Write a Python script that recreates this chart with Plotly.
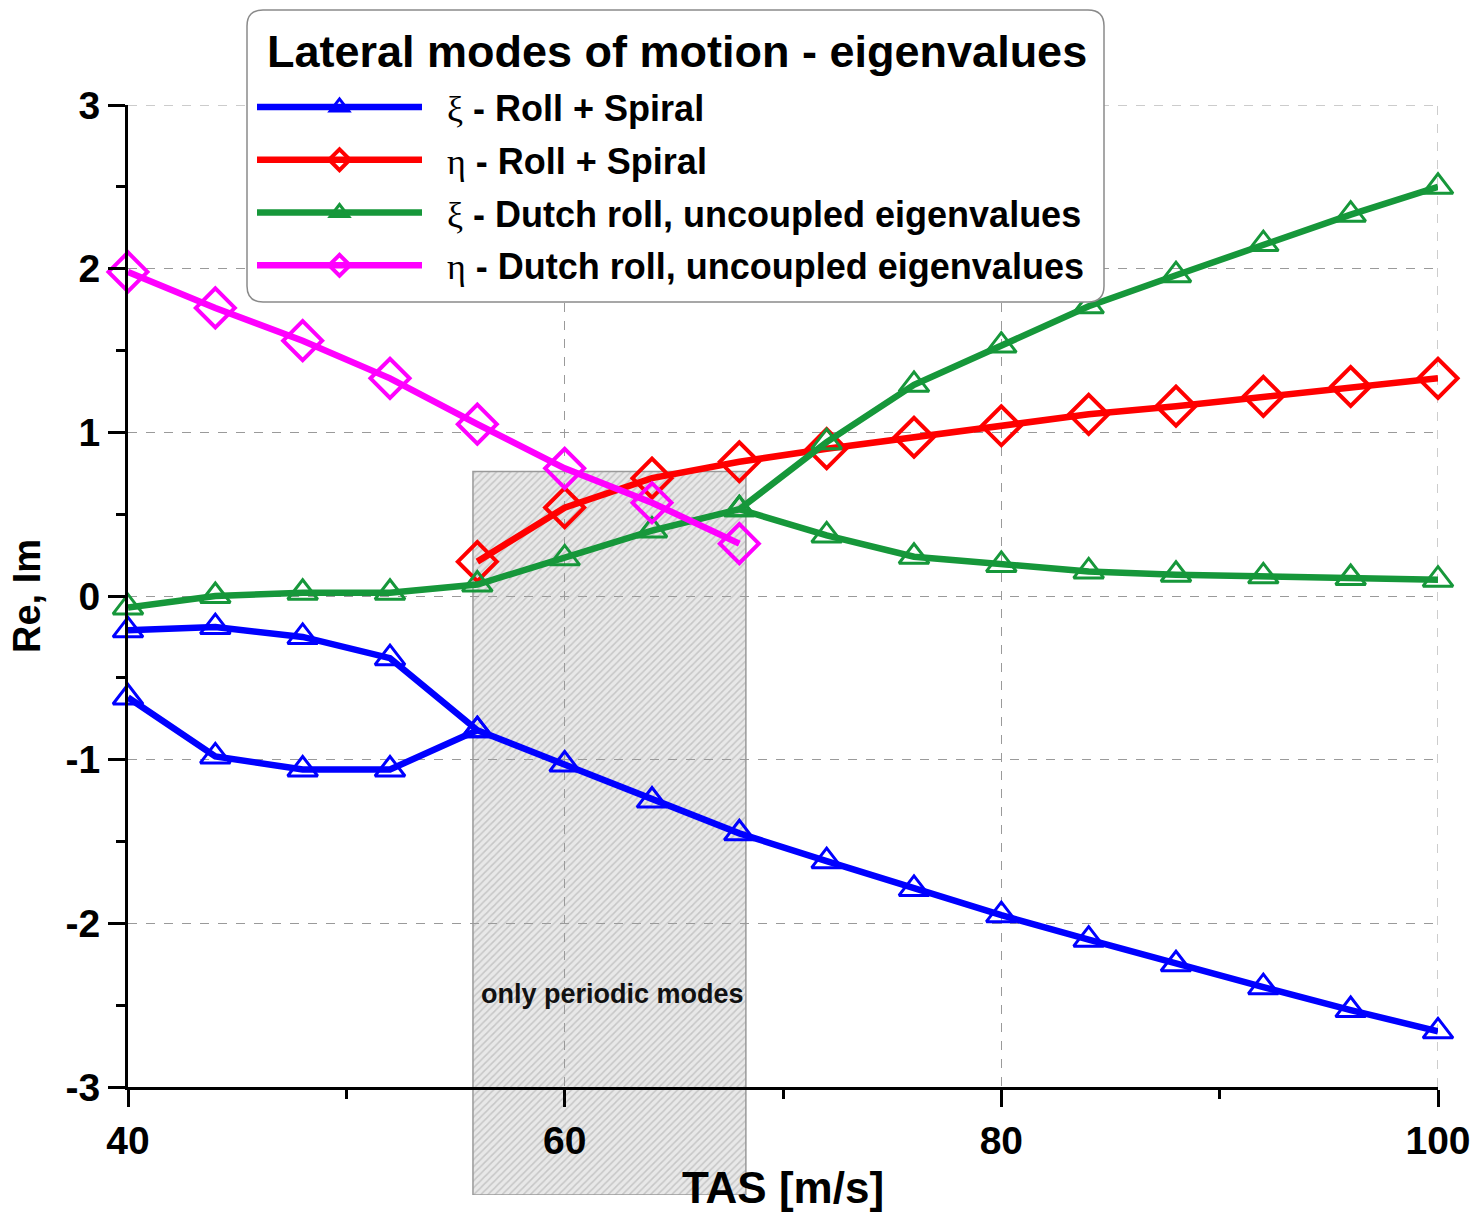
import plotly.graph_objects as go

# ---------------- data ----------------
tas = [40, 44, 48, 52, 56, 60, 64, 68, 72, 76, 80, 84, 88, 92, 96, 100]

xi_roll_spiral_a = [-0.21, -0.19, -0.25, -0.38, -0.82, -1.03, -1.25, -1.45, -1.62,
                    -1.79, -1.95, -2.10, -2.25, -2.39, -2.53, -2.66]
tas_roll_b = [40, 44, 48, 52, 56]
xi_roll_spiral_b = [-0.62, -0.98, -1.06, -1.06, -0.82]

tas_eta_roll = [56, 60, 64, 68, 72, 76, 80, 84, 88, 92, 96, 100]
eta_roll_spiral = [0.21, 0.54, 0.72, 0.82, 0.90, 0.97, 1.04, 1.11, 1.16, 1.22, 1.28, 1.33]

xi_dutch_a = [-0.07, 0.00, 0.02, 0.02, 0.07, 0.23, 0.40, 0.53, 0.94, 1.29, 1.53,
              1.77, 1.96, 2.15, 2.33, 2.50]
tas_dutch_b = [68, 72, 76, 80, 84, 88, 92, 96, 100]
xi_dutch_b = [0.53, 0.37, 0.24, 0.19, 0.15, 0.13, 0.12, 0.11, 0.10]

tas_eta_dutch = [40, 44, 48, 52, 56, 60, 64, 68]
eta_dutch = [1.98, 1.76, 1.56, 1.33, 1.05, 0.78, 0.57, 0.32]

periodic_x0, periodic_x1, periodic_top = 55.8, 68.3, 0.76
periodic_label = "only periodic modes"
periodic_label_x, periodic_label_y = 62.2, -2.43

legend_title = "Lateral modes of motion - eigenvalues"

x_ticks = [40, 60, 80, 100]
x_ticktext = ["40", "60", "80", "100"]
y_ticks = [-3, -2, -1, 0, 1, 2, 3]
y_ticktext = ["-3", "-2", "-1", "0", "1", "2", "3"]

# ---------------- style ----------------
W, H = 1476, 1216
ML, MR, MT, MB = 128, 38, 105, 21
plot_bottom_px = 1087
plot_w = W - ML - MR
plot_h = H - MT - MB
d = (H - MB - plot_bottom_px) / plot_h
y_low = -3 - 6 * d / (1 - d)

BLUE, RED, GREEN, MAG = "#0000FF", "#FF0000", "#16973A", "#FF00FF"
FONT = "Liberation Sans, Arial, sans-serif"
SERIF = "Liberation Serif"
GRID = "#9A9A9A"


def px_x(px):
    return (px - ML) / plot_w


def px_y(py):
    return (H - MB - py) / plot_h


def greek(ch, rest):
    return (f"\u00a0\u00a0<span style='font-family:{SERIF};font-weight:normal'>{ch}</span>"
            f" - {rest}")


fig = go.Figure()

# hatched region (drawn in the lower, invisible subplot)
fig.add_trace(go.Bar(
    x=[(periodic_x0 + periodic_x1) / 2], y=[periodic_top - y_low], base=[y_low],
    width=[periodic_x1 - periodic_x0],
    marker=dict(color="#E8E8E8", pattern=dict(shape="/", fgcolor="#A4A4A4", size=5, solidity=0.3),
                line=dict(color="#9A9A9A", width=1.5)),
    showlegend=False, hoverinfo="skip", xaxis="x", yaxis="y"))

tri = dict(symbol="triangle-up-open", size=26, line=dict(width=3))
dia = dict(symbol="diamond-open", size=30, line=dict(width=4))
LW = 6.5


def add(x, y, color, marker, name=None, group=None):
    fig.add_trace(go.Scatter(x=x, y=y, mode="lines+markers",
                             name=name, showlegend=name is not None, legendgroup=group,
                             line=dict(color=color, width=LW), marker=dict(color=color, **marker),
                             xaxis="x2", yaxis="y2", cliponaxis=False))


add(tas, xi_roll_spiral_a, BLUE, tri, greek("ξ", "Roll + Spiral"), "g1")
add(tas_roll_b, xi_roll_spiral_b, BLUE, tri, None, "g1")
add(tas_eta_roll, eta_roll_spiral, RED, dia, greek("η", "Roll + Spiral"), "g2")
add(tas, xi_dutch_a, GREEN, tri, greek("ξ", "Dutch roll, uncoupled eigenvalues"), "g3")
add(tas_dutch_b, xi_dutch_b, GREEN, tri, None, "g3")
add(tas_eta_dutch, eta_dutch, MAG, dia, greek("η", "Dutch roll, uncoupled eigenvalues"), "g4")

fig.add_annotation(x=periodic_label_x, y=periodic_label_y, xref="x2", yref="y2",
                   text=periodic_label, showarrow=False,
                   font=dict(family=FONT, size=27, color="#111", weight="bold"))

# edge grid lines (top and right)
fig.add_shape(type="line", xref="x2", yref="y2", x0=40, x1=100, y0=3, y1=3,
              line=dict(color=GRID, width=1, dash="dash"), layer="below")
fig.add_shape(type="line", xref="x2", yref="y2", x0=100, x1=100, y0=-3, y1=3,
              line=dict(color=GRID, width=1, dash="dash"), layer="below")

# rounded legend box
bx0, by0, bx1, by1, r = 247, 10, 1104, 302, 16


def P(x, y):
    return f"{px_x(x):.5f},{px_y(y):.5f}"


box_path = (f"M {P(bx0 + r, by0)} L {P(bx1 - r, by0)} Q {P(bx1, by0)} {P(bx1, by0 + r)} "
            f"L {P(bx1, by1 - r)} Q {P(bx1, by1)} {P(bx1 - r, by1)} "
            f"L {P(bx0 + r, by1)} Q {P(bx0, by1)} {P(bx0, by1 - r)} "
            f"L {P(bx0, by0 + r)} Q {P(bx0, by0)} {P(bx0 + r, by0)} Z")
fig.add_shape(type="path", xref="paper", yref="paper", path=box_path,
              fillcolor="white", line=dict(color="#8A8A8A", width=1.5), layer="above")

fig.add_annotation(x=px_x(265), y=px_y(52), xref="paper", yref="paper",
                   xanchor="left", yanchor="middle", showarrow=False,
                   text=legend_title,
                   font=dict(family=FONT, size=45, color="black", weight="bold"))

tickfont = dict(family=FONT, size=39, color="black", weight="bold")
axis_common = dict(showline=True, linecolor="black", linewidth=3,
                   ticks="outside", ticklen=17, tickwidth=3, tickcolor="black",
                   showgrid=True, gridcolor=GRID, griddash="dash", gridwidth=1,
                   zeroline=False, mirror=False, automargin=False,
                   tickfont=tickfont)

fig.update_layout(
    width=W, height=H,
    margin=dict(l=ML, r=MR, t=MT, b=MB, autoexpand=False),
    paper_bgcolor="white", plot_bgcolor="rgba(0,0,0,0)",
    font=dict(family=FONT, color="black"),
    barmode="overlay",
    xaxis=dict(domain=[0, 1], range=[40, 100], visible=False, anchor="y", automargin=False),
    yaxis=dict(domain=[0, 1], range=[y_low, 3], visible=False, anchor="x", automargin=False),
    xaxis2=dict(domain=[0, 1], range=[40, 100], anchor="y2",
                tickvals=x_ticks, ticktext=x_ticktext,
                minor=dict(dtick=10, tick0=40, ticks="outside", ticklen=9, tickwidth=3,
                           tickcolor="black", showgrid=False),
                title=dict(text="TAS [m/s]", standoff=12,
                           font=dict(family=FONT, size=44, color="black", weight="bold")),
                **axis_common),
    yaxis2=dict(domain=[d, 1], range=[-3, 3], anchor="x2",
                tickvals=y_ticks, ticktext=y_ticktext,
                minor=dict(dtick=0.5, tick0=0, ticks="outside", ticklen=9, tickwidth=3,
                           tickcolor="black", showgrid=False),
                title=dict(text="Re, Im", standoff=14,
                           font=dict(family=FONT, size=38, color="black", weight="bold")),
                **axis_common),
    legend=dict(x=px_x(252), y=px_y(77),
                xanchor="left", yanchor="top",
                bgcolor="rgba(0,0,0,0)", borderwidth=0,
                itemwidth=165, tracegroupgap=3,
                font=dict(family=FONT, size=36, color="black", weight="bold")),
)

fig.write_html("out.html")
